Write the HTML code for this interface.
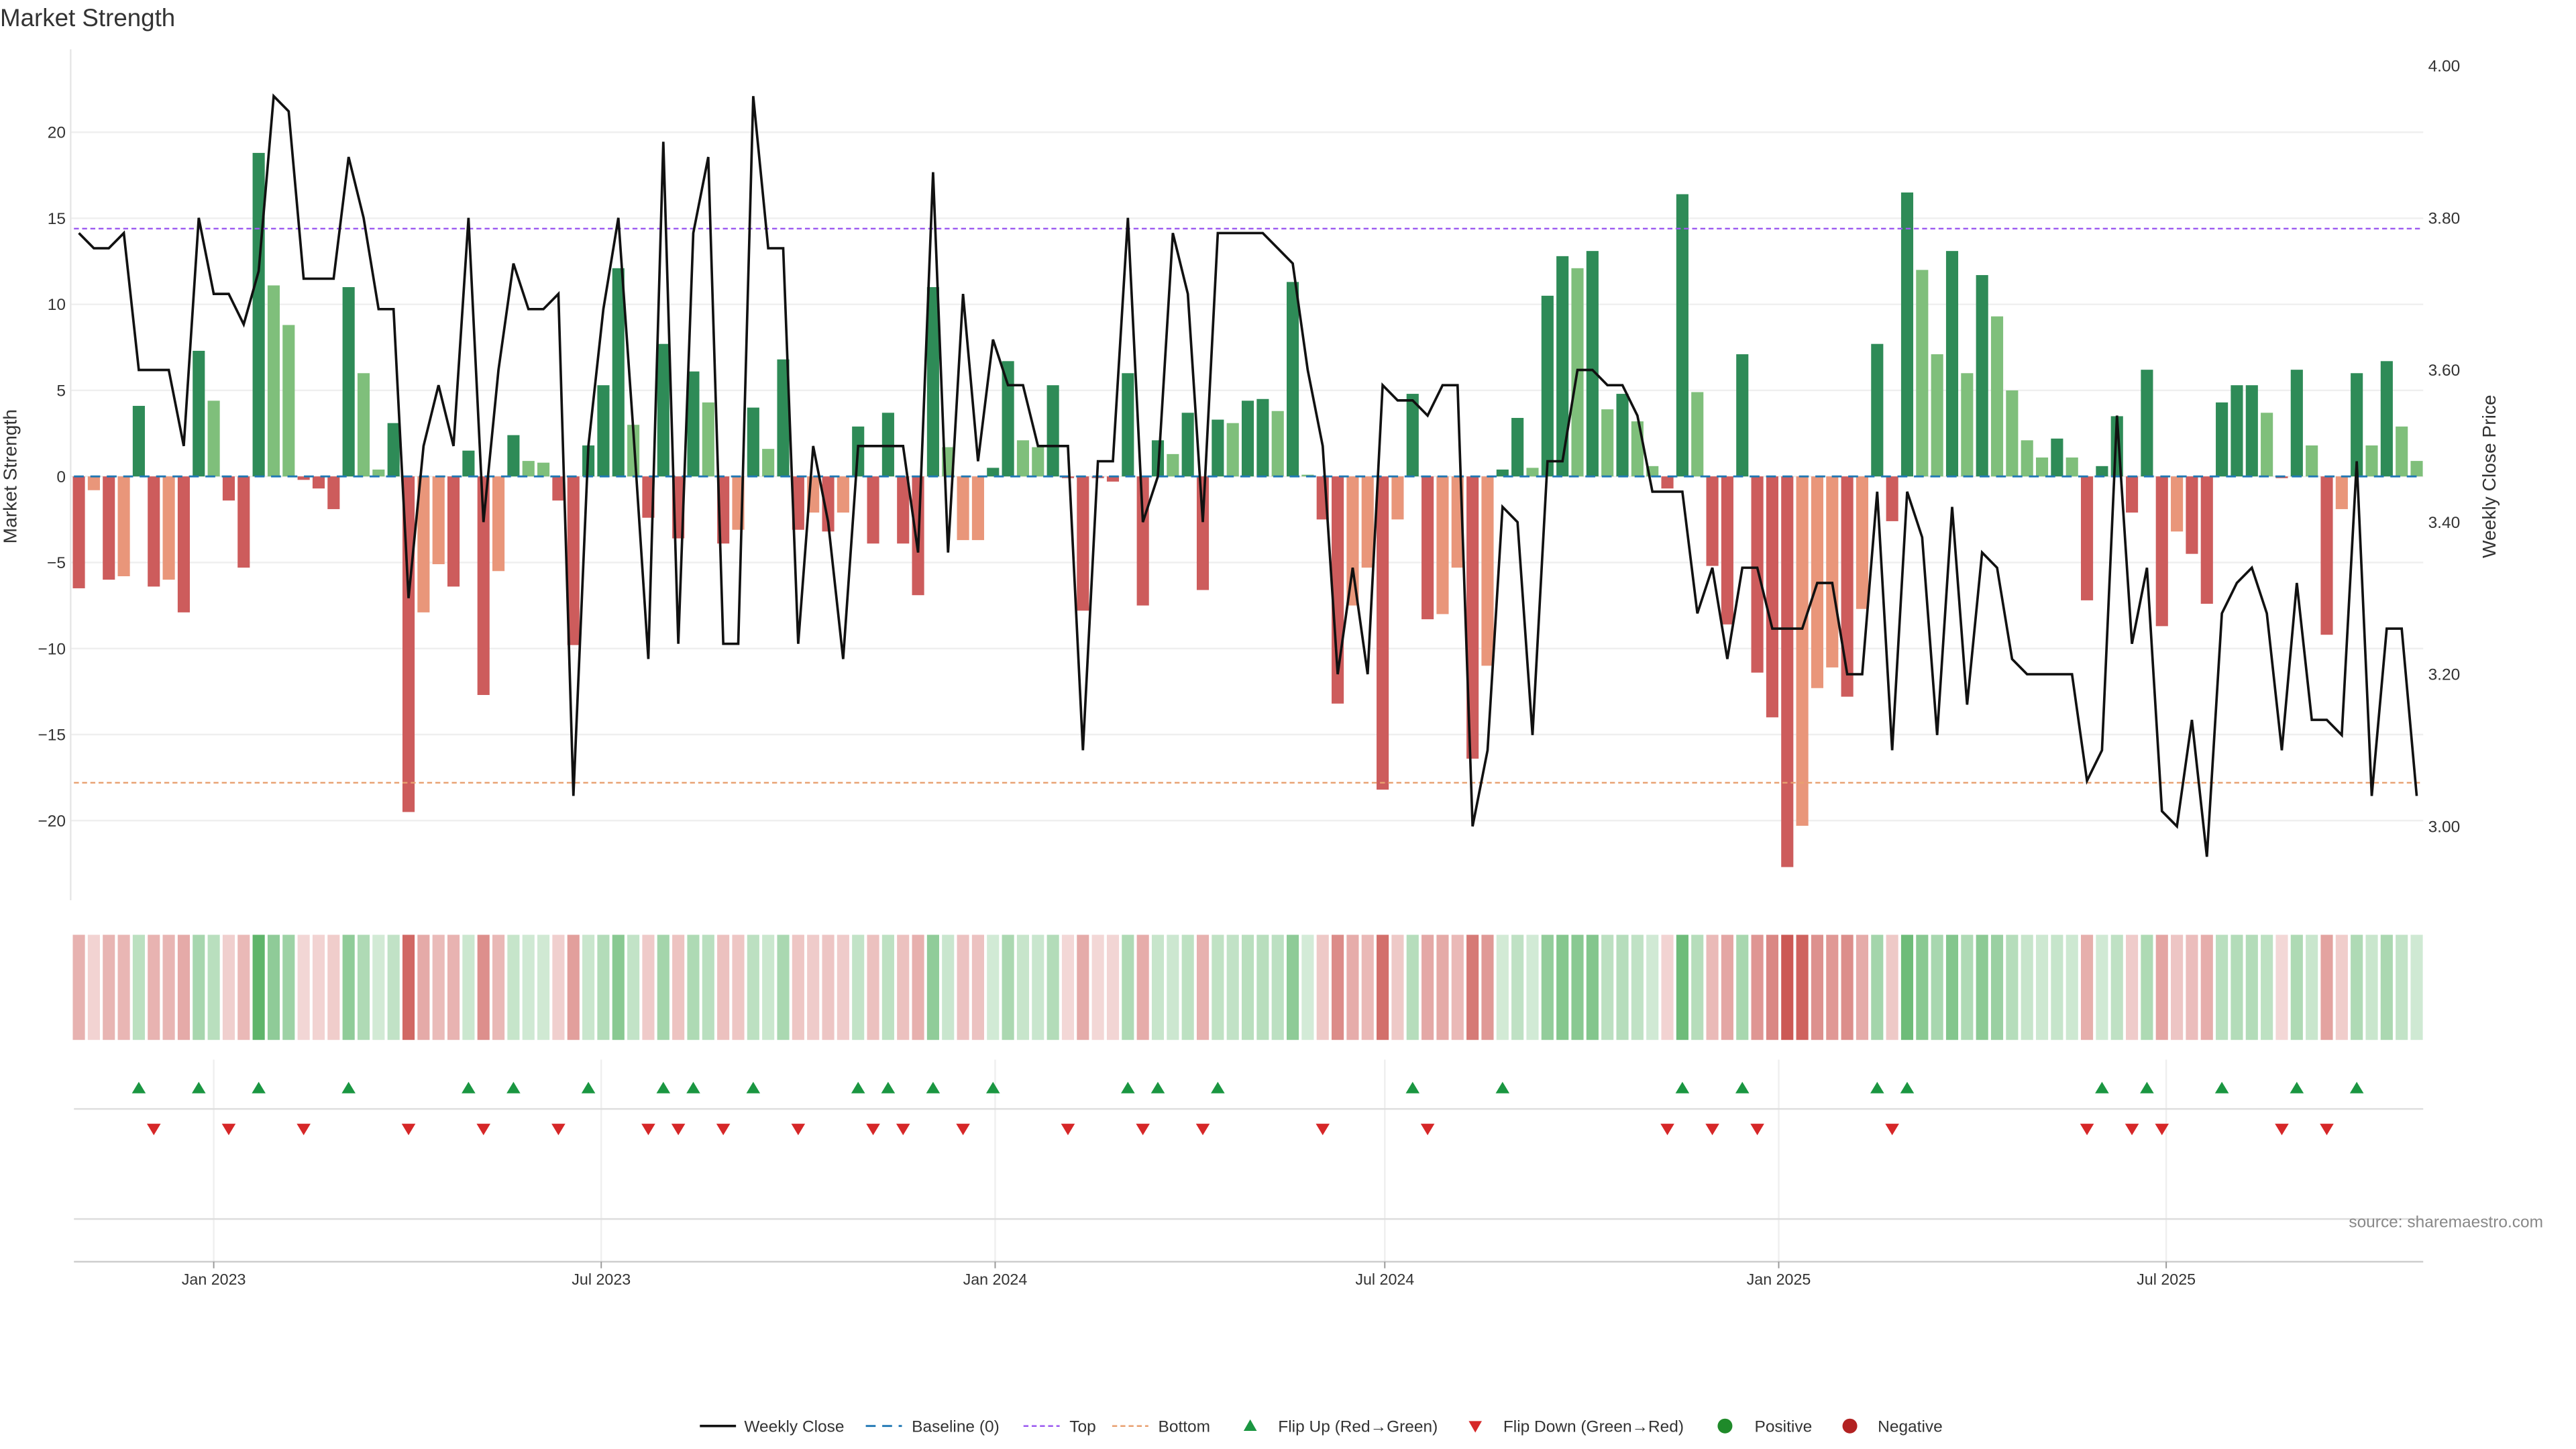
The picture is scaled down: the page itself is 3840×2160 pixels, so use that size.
<!DOCTYPE html>
<html><head><meta charset="utf-8"><style>
html,body{margin:0;padding:0;background:#fff;width:3840px;height:2160px;overflow:hidden}
svg{display:block;font-family:"Liberation Sans","DejaVu Sans",sans-serif}
</style></head><body>
<svg id="chart" width="3840" height="2160" viewBox="0 0 1568 882" xmlns="http://www.w3.org/2000/svg">
<text x="0" y="16" font-size="15" fill="#333">Market Strength</text>
<g id="grid"></g>
<g id="bars"></g>
<g id="lines"></g>
<g id="heat"></g>
<g id="flips"></g>
<g id="axes"></g>
<text x="1548" y="747" font-size="10" fill="#888" text-anchor="end">source: sharemaestro.com</text>
<g id="legend"></g>
</svg>
<script>
const strengthValues=[-6.5,-0.8,-6,-5.8,4.1,-6.4,-6,-7.9,7.3,4.4,
-1.4,-5.3,18.8,11.1,8.8,-0.2,-0.7,-1.9,11,6,
0.4,3.1,-19.5,-7.9,-5.1,-6.4,1.5,-12.7,-5.5,2.4,
0.9,0.8,-1.4,-9.8,1.8,5.3,12.1,3,-2.4,7.7,
-3.6,6.1,4.3,-3.9,-3.1,4,1.6,6.8,-3.1,-2.1,
-3.2,-2.1,2.9,-3.9,3.7,-3.9,-6.9,11,1.7,-3.7,
-3.7,0.5,6.7,2.1,1.7,5.3,-0.1,-7.8,-0.1,-0.3,
6,-7.5,2.1,1.3,3.7,-6.6,3.3,3.1,4.4,4.5,
3.8,11.3,0.1,-2.5,-13.2,-7.5,-5.3,-18.2,-2.5,4.8,
-8.3,-8,-5.3,-16.4,-11,0.4,3.4,0.5,10.5,12.8,
12.1,13.1,3.9,4.8,3.2,0.6,-0.7,16.4,4.9,-5.2,
-8.6,7.1,-11.4,-14,-22.7,-20.3,-12.3,-11.1,-12.8,-7.7,
7.7,-2.6,16.5,12,7.1,13.1,6,11.7,9.3,5,
2.1,1.1,2.2,1.1,-7.2,0.6,3.5,-2.1,6.2,-8.7,
-3.2,-4.5,-7.4,4.3,5.3,5.3,3.7,-0.1,6.2,1.8,
-9.2,-1.9,6,1.8,6.7,2.9,0.9];
const barShades=("R r R r G R r R G g "+
"R R G g g R R R G g "+
"g G R r r R G R r G "+
"g g R R G G G g R G "+
"R G g R r G g G R r "+
"R r G R G R R G g r "+
"r G G g g G R R R R "+
"G R G g G R G g G G "+
"g G g R R r r R r G "+
"R r r R r G G g G G "+
"g G g G g g R G g R "+
"R G R R R r r r R r "+
"G R G g g G g G g g "+
"g g G g R G G R G R "+
"r R R G G G g R G g "+
"R r G g G g g").split(" ");
const weeklyClose=[3.78,3.76,3.76,3.78,3.60,3.60,3.60,3.50,3.80,3.70,
3.70,3.66,3.73,3.96,3.94,3.72,3.72,3.72,3.88,3.80,
3.68,3.68,3.30,3.50,3.58,3.50,3.80,3.40,3.60,3.74,
3.68,3.68,3.70,3.04,3.50,3.68,3.80,3.52,3.22,3.90,
3.24,3.78,3.88,3.24,3.24,3.96,3.76,3.76,3.24,3.50,
3.40,3.22,3.50,3.50,3.50,3.50,3.36,3.86,3.36,3.70,
3.48,3.64,3.58,3.58,3.50,3.50,3.50,3.10,3.48,3.48,
3.80,3.40,3.46,3.78,3.70,3.40,3.78,3.78,3.78,3.78,
3.76,3.74,3.60,3.50,3.20,3.34,3.20,3.58,3.56,3.56,
3.54,3.58,3.58,3.00,3.10,3.42,3.40,3.12,3.48,3.48,
3.60,3.60,3.58,3.58,3.54,3.44,3.44,3.44,3.28,3.34,
3.22,3.34,3.34,3.26,3.26,3.26,3.32,3.32,3.20,3.20,
3.44,3.10,3.44,3.38,3.12,3.42,3.16,3.36,3.34,3.22,
3.20,3.20,3.20,3.20,3.06,3.10,3.54,3.24,3.34,3.02,
3.00,3.14,2.96,3.28,3.32,3.34,3.28,3.10,3.32,3.14,
3.14,3.12,3.48,3.04,3.26,3.26,3.04];
const leftTicks=[20,15,10,5,0,-5,-10,-15,-20];
const rightTicks=[4.00,3.80,3.60,3.40,3.20,3.00];
const dateTicks=["2023-01-01","2023-07-01","2024-01-01","2024-07-01","2025-01-01","2025-07-01"];
const dateTickLabels=["Jan 2023","Jul 2023","Jan 2024","Jul 2024","Jan 2025","Jul 2025"];
const topLevel=14.4, bottomLevel=-17.8;
const startDate="2022-10-30";

const NS="http://www.w3.org/2000/svg";
const X0=48, STEP=9.122, BW=7.4;
const xIdx=i=>X0+i*STEP;
const xDate=d=>X0+(new Date(d)-new Date(startDate))/(7*864e5)*STEP;
const yL=v=>290-v*10.475;
const yR=p=>40+(4-p)*463;
function mk(tag,attrs,parent,text){const e=document.createElementNS(NS,tag);for(const k in attrs)e.setAttribute(k,attrs[k]);if(text!==undefined)e.textContent=text;document.getElementById(parent).appendChild(e);return e;}
const N=Math.min(strengthValues.length,weeklyClose.length);

leftTicks.forEach(t=>{
 let g=mk('line',{x1:43,x2:1475,y1:yL(t),y2:yL(t),stroke:'#efefef','stroke-width':1},'grid');
 
 
 let l=mk('text',{x:40,y:yL(t)+3.5,'font-size':10,fill:'#333','text-anchor':'end'},'axes',t<0?'\u2212'+(-t):String(t));
 
 
});
rightTicks.forEach(t=>{
 let l=mk('text',{x:1478,y:yR(t)+3.5,'font-size':10,fill:'#333'},'axes',t.toFixed(2));
 
 
});
let sp=mk('line',{x1:43,x2:43,y1:30,y2:548,stroke:'#e6e6e6','stroke-width':1},'axes');


let yt=mk('text',{x:10,y:290,'font-size':11.5,fill:'#333','text-anchor':'middle',transform:'rotate(-90 10 290)'},'axes','Market Strength');


let yt2=mk('text',{x:1519,y:290,'font-size':11.5,fill:'#333','text-anchor':'middle',transform:'rotate(-90 1519 290)'},'axes','Weekly Close Price');



dateTicks.forEach((d,i)=>{
 const x=xDate(d);
 let v=mk('line',{x1:x,x2:x,y1:645,y2:768,stroke:'#efefef','stroke-width':1},'grid');
 
 
 let tk=mk('line',{x1:x,x2:x,y1:768,y2:772,stroke:'#999','stroke-width':0.8},'axes');
 
 
 let l=mk('text',{x:x,y:782,'font-size':9.5,fill:'#333','text-anchor':'middle'},'axes',dateTickLabels[i]);
 
 
});
[[675,'#ddd'],[742,'#ddd'],[768,'#ccc']].forEach(([y,c])=>{
 let h=mk('line',{x1:45,x2:1475,y1:y,y2:y,stroke:c,'stroke-width':1},'grid');
 
 
});

const shadeColor={G:'#2e8b57',g:'#7fbf7b',R:'#cd5c5c',r:'#e9967a'};
for(let i=0;i<N;i++){
 const v=strengthValues[i];
 const y0=yL(0), y1=yL(v);
 let s=barShades[i];
 if(!shadeColor[s]) s=v>=0?'G':'R';
 let b=mk('rect',{x:xIdx(i)-BW/2,y:Math.min(y0,y1),width:BW,height:Math.max(0.6,Math.abs(y1-y0)),fill:shadeColor[s]},'bars');
 
 
 const a=0.22+0.7*Math.min(1,Math.abs(v)/22);
 let h=mk('rect',{x:xIdx(i)-BW/2,y:569,width:BW,height:64,fill:v>=0?'rgb(60,165,75)':'rgb(200,75,70)','fill-opacity':a.toFixed(3)},'heat');
 
 
 if(i>0){
  const p=strengthValues[i-1];
  if(p<0&&v>=0){
   const x=xIdx(i);
   let t=mk('path',{d:`M${x-4.2},665.5 L${x+4.2},665.5 L${x},658.5 Z`,fill:'#1a9641'},'flips');
   
   
  } else if(p>=0&&v<0){
   const x=xIdx(i);
   let t=mk('path',{d:`M${x-4.2},684 L${x+4.2},684 L${x},691 Z`,fill:'#d62728'},'flips');
   
   
  }
 }
}
let bl=mk('line',{x1:45,x2:1473,y1:yL(0),y2:yL(0),stroke:'#1f77b4','stroke-width':1.2,'stroke-dasharray':'6,4'},'lines');


let tl=mk('line',{x1:45,x2:1473,y1:yL(topLevel),y2:yL(topLevel),stroke:'#9b59f0','stroke-width':1,'stroke-dasharray':'3,2'},'lines');


let bo=mk('line',{x1:45,x2:1473,y1:yL(bottomLevel),y2:yL(bottomLevel),stroke:'#e8a070','stroke-width':1,'stroke-dasharray':'3,2'},'lines');


let d='';
for(let i=0;i<N;i++){d+=(i?'L':'M')+xIdx(i).toFixed(2)+','+yR(weeklyClose[i]).toFixed(2);}
let cl=mk('path',{d:d,fill:'none',stroke:'#111','stroke-width':1.5,'stroke-linejoin':'miter'},'lines');



const L='legend', ly=868;
function lt(x,t,name){let e=mk('text',{x:x,y:ly+3.5,'font-size':10,fill:'#333'},L,t);}
let e;
e=mk('line',{x1:426,x2:448,y1:ly,y2:ly,stroke:'#111','stroke-width':1.5},L);
lt(453,'Weekly Close','legend-close-label');
e=mk('line',{x1:527,x2:549,y1:ly,y2:ly,stroke:'#1f77b4','stroke-width':1.2,'stroke-dasharray':'6,4'},L);
lt(555,'Baseline (0)','legend-baseline-label');
e=mk('line',{x1:623,x2:645,y1:ly,y2:ly,stroke:'#9b59f0','stroke-width':1,'stroke-dasharray':'3,2'},L);
lt(651,'Top','legend-top-label');
e=mk('line',{x1:677,x2:699,y1:ly,y2:ly,stroke:'#e8a070','stroke-width':1,'stroke-dasharray':'3,2'},L);
lt(705,'Bottom','legend-bottom-label');
e=mk('path',{d:'M757,871 L765,871 L761,864 Z',fill:'#1a9641'},L);
lt(778,'Flip Up (Red\u2192Green)','legend-flip-up-label');
e=mk('path',{d:'M894,865 L902,865 L898,872 Z',fill:'#d62728'},L);
lt(915,'Flip Down (Green\u2192Red)','legend-flip-down-label');
e=mk('circle',{cx:1050,cy:ly,r:4.5,fill:'#1f8a2a'},L);
lt(1068,'Positive','legend-positive-label');
e=mk('circle',{cx:1126,cy:ly,r:4.5,fill:'#b22222'},L);
lt(1143,'Negative','legend-negative-label');
</script>
</body></html>
